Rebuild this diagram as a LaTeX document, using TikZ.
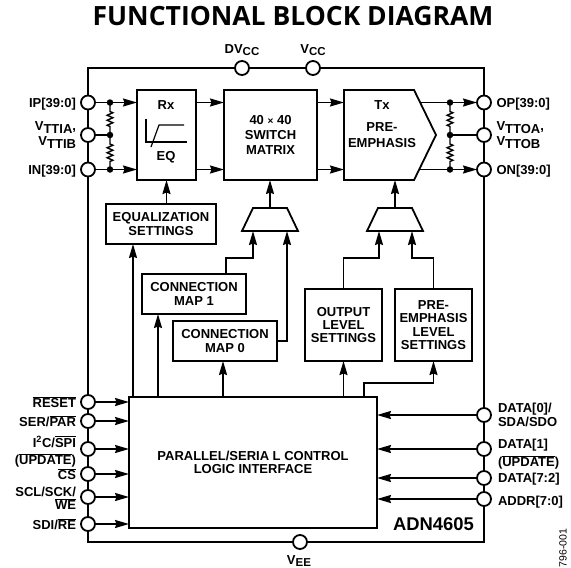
\documentclass[tikz,border=0pt]{standalone}
\usepackage{fontspec}
\setsansfont{Liberation Sans}
\newfontfamily\titlefont{Open Sans}
\usepackage{xcolor}
\usetikzlibrary{arrows.meta,positioning,calc,shapes.symbols,decorations.pathmorphing}
\newcommand{\barred}[1]{$\overline{\mbox{#1}}$}
\newcommand{\vsub}[2]{#1\lower2.6pt\hbox{#2}}

\begin{document}
\begin{tikzpicture}[x=1pt,y=-1pt,>={Stealth[length=14pt,width=8pt,inset=1.5pt]},
  font=\sffamily\bfseries\fontsize{13}{13.2}\selectfont,
  box/.style={draw,line width=1.8pt,inner sep=0pt,outer sep=0pt,align=center},
  frame/.style={draw,line width=2.6pt,inner sep=0pt,outer sep=0pt,minimum width=396pt,minimum height=474pt},
  pin/.style={circle,draw,fill=white,line width=1.8pt,inner sep=0pt,outer sep=0pt,minimum size=14pt},
  dot/.style={circle,fill=black,inner sep=0pt,outer sep=0pt,minimum size=6.5pt},
  sig/.style={line width=1.8pt},
  resistor/.style={line width=1.4pt,decorate,decoration={zigzag,segment length=5pt,amplitude=2.8pt,pre length=9pt,post length=8pt}},
  lab/.style={inner sep=0pt,outer sep=0pt,align=center},
  leftlab/.style={inner sep=0pt,outer sep=0pt,align=right},
  rightlab/.style={inner sep=0pt,outer sep=0pt,align=left}]
  \useasboundingbox (0,0) rectangle (571,568);
  \node[lab,font=\titlefont\bfseries\fontsize{26.5}{28}\selectfont] (title) at (293,16) {FUNCTIONAL BLOCK DIAGRAM};
  \node[frame] (frame) at (286,305) {};
  % supply pins
  \node[pin] (dvcc) at (242,68) {};
  \node[pin] (vcc) at (313,68) {};
  \node[pin] (vee) at (300,542) {};
  \node[lab] (dvcclab) at (242,50) {\vsub{DV}{\fontsize{11.5}{13}\selectfont CC}};
  \node[lab] (vcclab) at (313,50) {\vsub{V}{\fontsize{11.5}{13}\selectfont CC}};
  \node[lab] (veelab) at (299,561) {\vsub{V}{\fontsize{11.5}{13}\selectfont EE}};
  % data path
  \node[box,minimum width=59pt,minimum height=90pt] (rx) at (166.5,135) {};
  \node[lab] (rxlab) at (166,105) {Rx};
  \node[lab] (eqlab) at (166,157) {EQ};
  \node[box,minimum width=93pt,minimum height=90pt] (sw) at (270.5,135) {40 {\fontsize{10}{13}\selectfont ×} 40\\[2.4pt]SWITCH\\[2pt]MATRIX};
  \node[box,signal,signal to=east,signal pointer angle=128,anchor=west,minimum width=92pt,minimum height=90pt] (txb) at (344,135) {};
  \node[lab] (txlab) at (382,105) {Tx};
  \node[lab] (pelab) at (382,135) {PRE-\\[2pt]EMPHASIS};
  % eq curve
  \draw[sig,line width=1.2pt] (146,119) |- (187,142);
  \draw[sig,line width=1.2pt] (151,147) -- (159,125) -- (184,125);
  % input pins and termination
  \node[pin] (ipin) at (88,102.5) {};
  \node[pin] (vtti) at (88,135) {};
  \node[pin] (inpin) at (88,169.5) {};
  \node[dot] (ipdot) at (110,102.5) {};
  \node[dot] (vtdot) at (110,135) {};
  \node[dot] (indot) at (110,169.5) {};
  \draw[resistor] (ipdot.center) -- (vtdot.center);
  \draw[resistor] (vtdot.center) -- (indot.center);
  \draw[sig] (vtti) -- (vtdot);
  \draw[sig,->] (ipin) -- (ipin -| rx.west);
  \draw[sig,->] (inpin) -- (inpin -| rx.west);
  \draw[sig,->] (ipin -| rx.east) -- (ipin -| sw.west);
  \draw[sig,->] (inpin -| rx.east) -- (inpin -| sw.west);
  \draw[sig,->] (ipin -| sw.east) -- (ipin -| txb.west);
  \draw[sig,->] (inpin -| sw.east) -- (inpin -| txb.west);
  \node[leftlab,left=5pt of ipin,yshift=-1.5pt] (iplab) {IP[39:0]};
  \node[leftlab,left=5pt of vtti] (vttilab) {\vsub{V}{TTIA},\\[2pt]\vsub{V}{TTIB}};
  \node[leftlab,left=5pt of inpin,yshift=-1.5pt] (inlab) {IN[39:0]};
  % output pins and termination
  \node[pin] (opin) at (484,102.5) {};
  \node[pin] (vtto) at (484,135) {};
  \node[pin] (onpin) at (484,169.5) {};
  \node[dot] (opdot) at (450,102.5) {};
  \node[dot] (vodot) at (450,135) {};
  \node[dot] (ondot) at (450,169.5) {};
  \coordinate (txtop) at (420,102.5);
  \coordinate (txbot) at (419,169.5);
  \draw[resistor] (opdot.center) -- (vodot.center);
  \draw[resistor] (vodot.center) -- (ondot.center);
  \draw[sig] (vodot) -- (vtto);
  \draw[sig,->] (txtop) -- (opin);
  \draw[sig,->] (txbot) -- (onpin);
  \node[rightlab,right=5.5pt of opin,yshift=-1.5pt] (oplab) {OP[39:0]};
  \node[rightlab,right=5.5pt of vtto] (vttolab) {\vsub{V}{TTOA},\\[2pt]\vsub{V}{TTOB}};
  \node[rightlab,right=5.5pt of onpin,yshift=-1.5pt] (onlab) {ON[39:0]};
  % settings and muxes
  \node[box,minimum width=110pt,minimum height=40pt] (eqset) at (161,224) {EQUALIZATION\\SETTINGS};
  \coordinate (muxa) at (270,208);
  \coordinate (muxaa) at (253,231);
  \coordinate (muxab) at (287,231);
  \draw[sig,line join=miter] (muxa -| muxaa) -- (muxa -| muxab) -- (298,231) -- (242,231) -- cycle;
  \coordinate (muxb) at (395,208);
  \coordinate (muxba) at (379,231);
  \coordinate (muxbb) at (412,231);
  \draw[sig,line join=miter] (378,208) -- (412,208) -- (423,231) -- (367,231) -- cycle;
  \node[box,minimum width=104pt,minimum height=40pt] (mapone) at (194,294) {CONNECTION\\MAP 1};
  \node[box,minimum width=104pt,minimum height=40pt] (mapzero) at (225,341) {CONNECTION\\MAP 0};
  \node[box,minimum width=77pt,minimum height=72pt] (outlv) at (343.5,325) {OUTPUT\\LEVEL\\SETTINGS};
  \node[box,minimum width=77pt,minimum height=72pt] (prelv) at (433.5,325) {PRE-\\EMPHASIS\\LEVEL\\SETTINGS};
  \node[box,minimum width=248pt,minimum height=131pt] (ctrl) at (253,462.5) {PARALLEL/SERIA L CONTROL\\LOGIC INTERFACE};
  \node[lab,font=\sffamily\bfseries\fontsize{18.4}{20}\selectfont] (part) at (433.5,524) {ADN4605};
  \draw[sig,->] (rx.south |- eqset.north) -- (rx.south);
  \draw[sig,->] (muxa) -- (muxa |- sw.south);
  \draw[sig,->] (muxb) -- (muxb |- sw.south);
  \draw[sig,->] ($(mapone.north)+(32,0)$) -- ++(0,-16) -| (muxaa);
  \draw[sig,->] (mapzero.east) -| (muxab);
  \draw[sig,->] (outlv.north) -- ++(0,-31) -| (muxba);
  \draw[sig,->] (prelv.north) -- ++(0,-31) -| (muxbb);
  % control outputs
  \coordinate (ctleq) at ($(ctrl.north west)+(4,0)$);
  \coordinate (ctlmap) at ($(ctrl.north west)+(29,0)$);
  \coordinate (ctlzero) at ($(ctrl.north)+(-30,0)$);
  \coordinate (ctlpre) at ($(ctrl.north)+(111,0)$);
  \draw[sig,->] (ctleq) -- (ctleq |- eqset.south);
  \draw[sig,->] (ctlmap) -- (ctlmap |- mapone.south);
  \draw[sig,->] (ctlzero) -- (ctlzero |- mapzero.south);
  \draw[sig,->] (outlv.south |- ctrl.north) -- (outlv.south);
  \draw[sig,->] (ctlpre) -- ++(0,-14) -| (prelv.south);
  % control pins, left
  \node[pin] (rstpin) at (88,402) {};
  \node[pin] (serpin) at (88,421) {};
  \node[pin] (i2cpin) at (88,449) {};
  \node[pin] (cspin) at (88,474) {};
  \node[pin] (sclpin) at (88,497) {};
  \node[pin] (sdipin) at (88,524) {};
  \draw[sig,->] (rstpin) -- (rstpin -| ctrl.west);
  \draw[sig,->] (serpin) -- (serpin -| ctrl.west);
  \draw[sig,->] (i2cpin) -- (i2cpin -| ctrl.west);
  \draw[sig,->] (cspin) -- (cspin -| ctrl.west);
  \draw[sig,->] (sclpin) -- (sclpin -| ctrl.west);
  \draw[sig,->] (sdipin) -- (sdipin -| ctrl.west);
  \node[leftlab,left=5pt of rstpin] (rstlab) {\barred{RESET}};
  \node[leftlab,left=5pt of serpin] (serlab) {SER/\barred{PAR}};
  \node[leftlab,left=5pt of i2cpin,yshift=-2.5pt] (i2clab) {I\textsuperscript{2}C/\barred{SPI}\\[4pt](\barred{UPDATE})};
  \node[leftlab,left=5pt of cspin] (cslab) {\barred{CS}};
  \node[leftlab,left=5pt of sclpin,yshift=-1pt] (scllab) {SCL/SCK/\\\barred{WE}};
  \node[leftlab,left=5pt of sdipin] (sdilab) {SDI/\barred{RE}};
  % control pins, right
  \node[pin] (dzpin) at (484,415) {};
  \node[pin] (donepin) at (484,449) {};
  \node[pin] (dhipin) at (484,478) {};
  \node[pin] (addrpin) at (484,499) {};
  \draw[sig,->] (dzpin) -- (dzpin -| ctrl.east);
  \draw[sig,->] (donepin) -- (donepin -| ctrl.east);
  \draw[sig,->] (dhipin) -- (dhipin -| ctrl.east);
  \draw[sig,->] (addrpin) -- (addrpin -| ctrl.east);
  \node[rightlab,right=7pt of dzpin] (dzlab) {DATA[0]/\\SDA/SDO};
  \node[rightlab,right=7pt of donepin,yshift=-5pt] (donelab) {DATA[1]\\[4pt](\barred{UPDATE})};
  \node[rightlab,right=7pt of dhipin,yshift=-1.5pt] (dhilab) {DATA[7:2]};
  \node[rightlab,right=7pt of addrpin,yshift=-3pt] (addrlab) {ADDR[7:0]};
  \node[lab,rotate=90,font=\sffamily\fontsize{10.5}{12}\selectfont] (code) at (563,548) {796-001};
\end{tikzpicture}
\end{document}
